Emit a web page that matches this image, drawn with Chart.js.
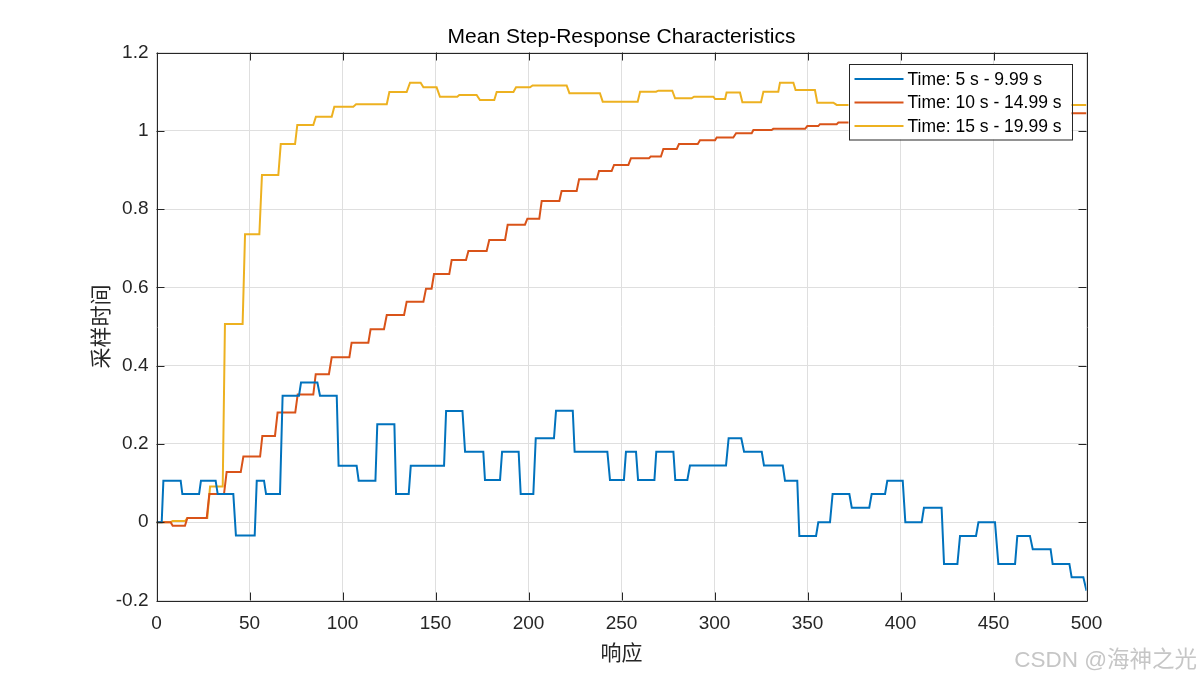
<!DOCTYPE html>
<html>
<head>
<meta charset="utf-8">
<script src="https://cdn.jsdelivr.net/npm/chart.js@4.4.1/dist/chart.umd.min.js"></script>
<style>
  html, body { margin: 0; padding: 0; background: #ffffff; }
  #wrap { position: relative; width: 1200px; height: 675px; }
  #watermark {
    position: absolute; right: 3px; top: 641px;
    font-family: "Liberation Sans", "Noto Sans CJK SC", sans-serif;
    font-size: 22.5px; color: #c6c6c6; white-space: nowrap;
  }
</style>
</head>
<body>
<div id="wrap">
  <canvas id="chart" width="1200" height="675"></canvas>
  <div id="watermark">CSDN @海神之光</div>
</div>
<script>
// ---------------- data ----------------
const chartTitle = 'Mean Step-Response Characteristics';
const xAxisLabel = '响应';
const yAxisLabel = '采样时间';
const seriesLabels = ['Time: 5 s - 9.99 s', 'Time: 10 s - 14.99 s', 'Time: 15 s - 19.99 s'];

const xTickValues = [0, 50, 100, 150, 200, 250, 300, 350, 400, 450, 500];
const xTickLabels = ['0', '50', '100', '150', '200', '250', '300', '350', '400', '450', '500'];
const yTickValues = [-0.2, 0, 0.2, 0.4, 0.6, 0.8, 1.0, 1.2];
const yTickLabels = ['-0.2', '0', '0.2', '0.4', '0.6', '0.8', '1', '1.2'];

// Series 1: Time 5 s - 9.99 s  (breakpoints of the staircase)
const s1X = [0, 2.8, 3.7, 13.0, 13.9, 22.9, 23.9, 31.8, 32.9, 41.3, 42.7, 52.8, 53.9, 57.8, 58.9,
  66.4, 67.8, 76.6, 77.7, 86.5, 87.9, 96.9, 97.9, 107.6, 108.7, 117.7, 118.7, 127.9, 128.8,
  135.6, 136.7, 154.6, 155.7, 164.5, 165.9, 175.7, 176.6, 184.7, 185.8, 194.7, 195.8,
  202.6, 203.9, 213.7, 214.8, 223.8, 224.8, 242.4, 243.8, 251.3, 252.4, 257.8, 258.9,
  267.7, 268.7, 277.9, 278.9, 285.4, 286.8, 306.2, 307.6, 314.4, 315.9, 325.4, 326.6,
  336.7, 337.9, 344.5, 345.6, 354.6, 355.8, 362.1, 363.5, 372.5, 373.8, 383.2, 384.5,
  391.7, 392.9, 401.2, 402.6, 411.4, 412.6, 422.1, 423.4, 430.6, 432.0, 440.6, 441.9,
  450.8, 452.6, 461.6, 462.8, 469.6, 471.1, 480.7, 481.8, 490.8, 492.0, 498.3, 500];
const s1Y = [0, 0, 0.106, 0.106, 0.072, 0.072, 0.106, 0.106, 0.072, 0.072, -0.034, -0.034, 0.106, 0.106, 0.072,
  0.072, 0.323, 0.323, 0.357, 0.357, 0.323, 0.323, 0.144, 0.144, 0.106, 0.106, 0.250, 0.250, 0.072,
  0.072, 0.144, 0.144, 0.284, 0.284, 0.180, 0.180, 0.108, 0.108, 0.180, 0.180, 0.072,
  0.072, 0.2146, 0.2146, 0.285, 0.285, 0.180, 0.180, 0.108, 0.108, 0.180, 0.180, 0.108,
  0.108, 0.180, 0.180, 0.108, 0.108, 0.145, 0.145, 0.2146, 0.2146, 0.180, 0.180, 0.145,
  0.145, 0.106, 0.106, -0.035, -0.035, 0.0, 0.0, 0.072, 0.072, 0.037, 0.037, 0.072,
  0.072, 0.106, 0.106, 0.0, 0.0, 0.037, 0.037, -0.1065, -0.1065, -0.035, -0.035, 0.0,
  0.0, -0.1065, -0.1065, -0.035, -0.035, -0.069, -0.069, -0.1065, -0.1065, -0.1405, -0.1405, -0.175];

// Series 2: Time 10 s - 14.99 s
const s2X = [0, 7.6, 8.7, 15.3, 16.6, 27.0, 28.4, 36.3, 37.7, 45.3, 46.7, 55.7, 56.9, 63.7, 65.1,
  74.6, 75.9, 84.3, 85.6, 92.7, 94.2, 103.7, 104.9, 113.9, 115.1, 122.3, 123.8, 133.1, 134.5,
  143.5, 144.9, 147.9, 149.2, 157.4, 158.7, 166.4, 167.7, 177.5, 178.9, 187.4, 188.8,
  198.1, 199.4, 205.8, 207.1, 216.6, 217.8, 225.9, 227.2, 236.7, 237.9, 244.7, 246.0,
  253.7, 255.1, 264.8, 265.7, 271.2, 272.5, 279.7, 280.9, 291.0, 292.2, 300.3, 301.2,
  310.1, 311.6, 320.0, 320.9, 330.7, 331.6, 348.7, 349.9, 355.8, 356.7, 365.7, 366.6,
  385.0, 386.0, 405.0, 406.0, 425.0, 426.0, 450.0, 451.0, 475.0, 476.0, 500];
const s2Y = [0, 0, -0.009, -0.009, 0.011, 0.011, 0.072, 0.072, 0.128, 0.128, 0.1676, 0.1676, 0.2204, 0.2204, 0.280,
  0.280, 0.326, 0.326, 0.378, 0.378, 0.4214, 0.4214, 0.4588, 0.4588, 0.493, 0.493, 0.5295, 0.5295, 0.5635,
  0.5635, 0.5967, 0.5967, 0.634, 0.634, 0.670, 0.670, 0.693, 0.693, 0.721, 0.721, 0.760,
  0.760, 0.7755, 0.7755, 0.8207, 0.8207, 0.846, 0.846, 0.876, 0.876, 0.897, 0.897, 0.9127,
  0.9127, 0.930, 0.930, 0.934, 0.934, 0.9535, 0.9535, 0.966, 0.966, 0.9756, 0.9756, 0.983,
  0.983, 0.9936, 0.9936, 1.002, 1.002, 1.005, 1.005, 1.012, 1.012, 1.017, 1.017, 1.021,
  1.021, 1.028, 1.028, 1.033, 1.033, 1.037, 1.037, 1.041, 1.041, 1.0447, 1.0447];

// Series 3: Time 15 s - 19.99 s
const s3X = [0, 7.6, 8.7, 15.3, 16.6, 27.3, 28.8, 35.6, 36.8, 46.3, 47.6, 55.3, 56.7, 65.5, 66.8,
  74.5, 75.7, 84.3, 85.7, 94.2, 95.6, 105.8, 107.3, 123.8, 125.2, 134.5, 136.3, 142.0, 143.5,
  150.6, 152.4, 161.7, 162.8, 172.1, 173.9, 181.6, 182.9, 191.9, 193.3, 200.8, 202.2,
  220.5, 222.0, 238.4, 239.9, 258.7, 260.0, 268.6, 269.8, 277.3, 278.8, 287.7, 289.0,
  299.4, 300.3, 305.7, 306.5, 313.7, 315.0, 325.0, 326.3, 334.3, 335.2, 342.4, 343.6,
  354.0, 355.3, 363.9, 365.7, 500];
const s3Y = [0, 0, 0.003, 0.003, 0.011, 0.011, 0.091, 0.091, 0.5065, 0.5065, 0.7355, 0.7355, 0.887, 0.887, 0.966,
  0.966, 1.0148, 1.0148, 1.036, 1.036, 1.0616, 1.0616, 1.0676, 1.0676, 1.099, 1.099, 1.123, 1.123, 1.111,
  1.111, 1.087, 1.087, 1.0915, 1.0915, 1.0787, 1.0787, 1.099, 1.099, 1.111, 1.111, 1.116,
  1.116, 1.096, 1.096, 1.0744, 1.0744, 1.0999, 1.0999, 1.1024, 1.1024, 1.083, 1.083, 1.087,
  1.087, 1.081, 1.081, 1.098, 1.098, 1.0728, 1.0728, 1.100, 1.100, 1.123, 1.123, 1.104,
  1.104, 1.0718, 1.0718, 1.066, 1.066];

const seriesColors = ['#0072BD', '#D95319', '#EDB120'];

// ---------------- chart ----------------
const toPoints = (xs, ys) => xs.map((x, i) => ({ x: x, y: ys[i] }));
const LATIN = '"Liberation Sans", Arial, Helvetica, sans-serif';
const CJK = '"Noto Sans CJK SC", sans-serif';
const AXIS_COLOR = '#262626';

// frame with inward tick marks on all four sides
const framePlugin = {
  id: 'frame',
  afterDatasetsDraw(chart) {
    const { ctx, chartArea: a, scales } = chart;
    const L = 8;
    ctx.save();
    ctx.strokeStyle = AXIS_COLOR;
    ctx.lineWidth = 1;
    ctx.beginPath();
    ctx.rect(Math.round(a.left) + 0.5, Math.round(a.top) + 0.5,
             Math.round(a.right - a.left), Math.round(a.bottom - a.top));
    scales.x.ticks.forEach(t => {
      const px = Math.round(scales.x.getPixelForValue(t.value)) + 0.5;
      ctx.moveTo(px, a.bottom); ctx.lineTo(px, a.bottom - L);
      ctx.moveTo(px, a.top); ctx.lineTo(px, a.top + L);
    });
    scales.y.ticks.forEach(t => {
      const py = Math.round(scales.y.getPixelForValue(t.value)) + 0.5;
      ctx.moveTo(a.left, py); ctx.lineTo(a.left + L, py);
      ctx.moveTo(a.right, py); ctx.lineTo(a.right - L, py);
    });
    ctx.stroke();
    ctx.restore();
  }
};

// legend box drawn inside the plot (north-east)
const insideLegend = {
  id: 'insideLegend',
  afterDatasetsDraw(chart) {
    const { ctx, chartArea: a } = chart;
    const w = 223, h = 75.5;
    const x0 = a.right - 15 - w, y0 = a.top + 11.5;
    const rows = [15, 38.5, 62];
    ctx.save();
    ctx.fillStyle = '#ffffff';
    ctx.fillRect(x0, y0, w, h);
    ctx.strokeStyle = AXIS_COLOR;
    ctx.lineWidth = 1;
    ctx.strokeRect(Math.round(x0) + 0.5, Math.round(y0) + 0.5, w, h);
    ctx.font = '17.5px ' + LATIN;
    ctx.textBaseline = 'middle';
    ctx.textAlign = 'left';
    chart.data.datasets.forEach((ds, i) => {
      const yy = y0 + rows[i];
      ctx.strokeStyle = ds.borderColor;
      ctx.lineWidth = 2;
      ctx.beginPath();
      ctx.moveTo(x0 + 6, yy); ctx.lineTo(x0 + 55, yy);
      ctx.stroke();
      ctx.fillStyle = '#000000';
      ctx.fillText(ds.label, x0 + 59, yy + 1);
    });
    ctx.restore();
  }
};

new Chart(document.getElementById('chart'), {
  type: 'scatter',
  data: {
    datasets: [
      { label: seriesLabels[0], data: toPoints(s1X, s1Y), borderColor: seriesColors[0] },
      { label: seriesLabels[1], data: toPoints(s2X, s2Y), borderColor: seriesColors[1] },
      { label: seriesLabels[2], data: toPoints(s3X, s3Y), borderColor: seriesColors[2] }
    ].map(d => Object.assign(d, {
      showLine: true, pointRadius: 0, pointHoverRadius: 0, borderWidth: 2,
      tension: 0, fill: false, yAxisID: 'y', xAxisID: 'x', backgroundColor: d.borderColor
    }))
  },
  options: {
    responsive: false,
    animation: false,
    devicePixelRatio: 1,
    layout: { padding: { left: 43, right: 0, top: 0, bottom: 0 } },
    plugins: {
      legend: { display: false },
      tooltip: { enabled: false },
      title: {
        display: true, text: chartTitle, color: '#000000',
        font: { family: LATIN, size: 21, weight: 'normal' },
        padding: { top: 24.4, bottom: 2.9 }
      }
    },
    scales: {
      x: {
        type: 'linear', position: 'bottom', min: 0, max: 500,
        afterBuildTicks: s => { s.ticks = xTickValues.map(v => ({ value: v })); },
        afterFit: s => { s.height = 74.5; },
        ticks: {
          callback: (v, i) => xTickLabels[i],
          color: AXIS_COLOR, font: { family: LATIN, size: 19 }, padding: 12, maxRotation: 0
        },
        grid: { color: '#dfdfdf', lineWidth: 1, drawTicks: false },
        border: { display: false },
        title: {
          display: true, text: xAxisLabel, color: AXIS_COLOR,
          font: { family: CJK, size: 21 }, padding: { top: 0, bottom: 10.4 }
        }
      },
      y: {
        type: 'linear', position: 'left', min: -0.2, max: 1.2,
        afterBuildTicks: s => { s.ticks = yTickValues.map(v => ({ value: v })); },
        afterFit: s => { s.width = 113.5; },
        ticks: {
          callback: (v, i) => yTickLabels[i],
          color: AXIS_COLOR, font: { family: LATIN, size: 19 }, padding: 8
        },
        grid: { color: '#dfdfdf', lineWidth: 1, drawTicks: false },
        border: { display: false },
        title: {
          display: true, text: yAxisLabel, color: AXIS_COLOR,
          font: { family: CJK, size: 21 }, padding: { top: 44.4, bottom: 0 }
        }
      },
      y2: {
        type: 'linear', position: 'right', min: -0.2, max: 1.2, display: true,
        afterFit: s => { s.width = 113.5; },
        ticks: { display: false },
        grid: { display: false, drawTicks: false },
        border: { display: false }
      }
    }
  },
  plugins: [framePlugin, insideLegend]
});
</script>
</body>
</html>
